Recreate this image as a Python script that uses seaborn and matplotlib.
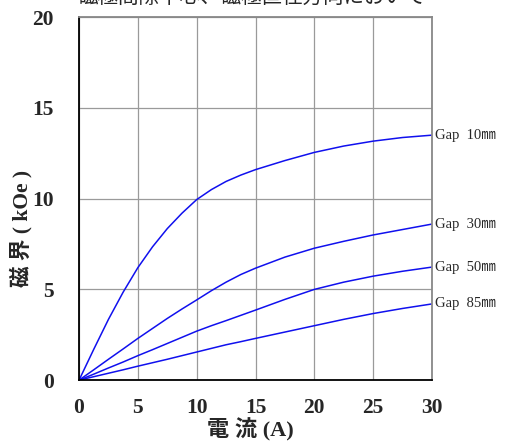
import matplotlib
matplotlib.use("Agg")
import matplotlib.pyplot as plt
import seaborn as sns
import pandas as pd

# ── DATA ──────────────────────────────────────────────────────────────────────
current = [0, 1.25, 2.5, 3.75, 5, 6.25, 7.5, 8.75, 10, 11.25, 12.5, 13.75, 15,
           17.5, 20, 22.5, 25, 27.5, 30]
gap10 = [0, 1.7, 3.35, 4.85, 6.2, 7.35, 8.35, 9.2, 9.95, 10.5, 10.95, 11.3, 11.6,
         12.1, 12.55, 12.9, 13.17, 13.37, 13.5]
gap30 = [0, 0.57, 1.15, 1.72, 2.3, 2.85, 3.4, 3.92, 4.42, 4.93, 5.4, 5.82, 6.17,
         6.78, 7.27, 7.65, 8.0, 8.3, 8.6]
gap50 = [0, 0.33, 0.67, 1.0, 1.35, 1.68, 2.02, 2.36, 2.7, 3.0, 3.28, 3.57, 3.86,
         4.45, 5.0, 5.4, 5.73, 6.0, 6.23]
gap85 = [0, 0.19, 0.38, 0.57, 0.77, 0.96, 1.15, 1.35, 1.55, 1.75, 1.95, 2.12, 2.3,
         2.65, 3.0, 3.35, 3.67, 3.95, 4.2]
series_labels = ["Gap  10㎜", "Gap  30㎜", "Gap  50㎜", "Gap  85㎜"]
x_ticks = [0, 5, 10, 15, 20, 25, 30]
y_ticks = [0, 5, 10, 15, 20]

rows = []
for lab, vals in zip(series_labels, [gap10, gap30, gap50, gap85]):
    for x, y in zip(current, vals):
        rows.append({"current": x, "field": y, "gap": lab})
df = pd.DataFrame(rows)

# ── PLOT ──────────────────────────────────────────────────────────────────────
sns.set_style("white")
plt.rcParams["font.family"] = ["Liberation Serif", "Noto Sans CJK JP"]

fig = plt.figure(figsize=(5.1, 4.41), dpi=100)
ax = fig.add_axes([0.155, 0.138, 0.692, 0.823])

sns.lineplot(data=df, x="current", y="field", hue="gap",
             palette=["#1010ee"] * 4, linewidth=1.1, legend=False, ax=ax)

ax.set_xlim(0, 30); ax.set_ylim(0, 20)
ax.set_xticks(x_ticks); ax.set_yticks(y_ticks)
ax.grid(True, color="#9a9a9a", linewidth=0.9)
for t in ax.get_xticklabels() + ax.get_yticklabels():
    t.set_fontsize(15.5); t.set_fontweight("bold")
ax.tick_params(axis="x", length=0, pad=13)
ax.tick_params(axis="y", length=0, pad=18)

for s in ["left", "bottom"]:
    ax.spines[s].set_color("black"); ax.spines[s].set_linewidth(1.3)
for s in ["top", "right"]:
    ax.spines[s].set_color("#888888"); ax.spines[s].set_linewidth(1.3)

# end-of-line labels
for lab, vals in zip(series_labels, [gap10, gap30, gap50, gap85]):
    ax.text(current[-1] + 0.3, vals[-1], lab, fontsize=10.5, va="center",
            ha="left", clip_on=False)

ax.set_xlabel(""); ax.set_ylabel("")
fig.text(250 / 510, 1 - 430 / 441, "電 流 (A)", fontsize=16, fontweight="bold",
         ha="center", va="center")
fig.text(21 / 510, 1 - 228 / 441, "磁 界 ( kOe )", fontsize=15.5, fontweight="bold",
         ha="center", va="center", rotation=90)

fig.text(0.152, 1.004, "磁極間隙中心、磁極直径方向において", fontsize=14.8,
         va="center", ha="left")

fig.savefig("out.png", dpi=100)
